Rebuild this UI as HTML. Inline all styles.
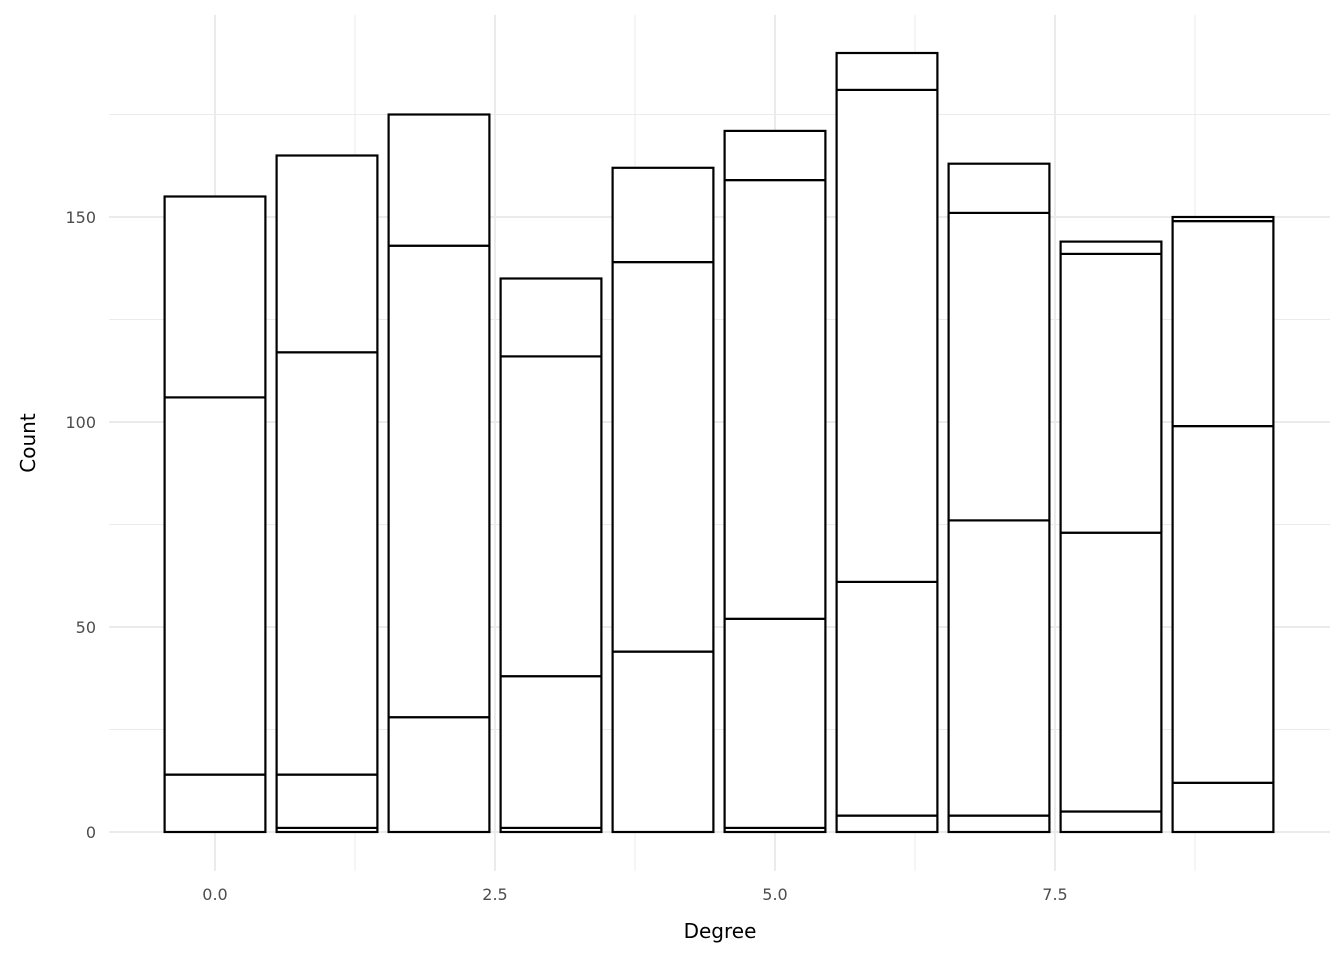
<!DOCTYPE html>
<html><head><meta charset="utf-8"><style>
body{margin:0;background:#fff;}
svg{display:block;font-family:"DejaVu Sans","Liberation Sans",sans-serif;}
</style></head><body>
<svg id="chart" width="1344" height="960" viewBox="0 0 1344 960" xmlns="http://www.w3.org/2000/svg">
<g id="grid"></g>
<g id="bars"></g>
<g id="axes"></g>
<text x="720" y="938" text-anchor="middle" font-size="20" fill="#000">Degree</text>
<text transform="translate(35,443) rotate(-90)" text-anchor="middle" font-size="20" fill="#000">Count</text>
</svg>
<script>
const categories = [0,1,2,3,4,5,6,7,8,9];
const s1 = [0,1,0,1,0,1,4,4,5,0];
const s2 = [14,13,28,37,44,51,57,72,68,12];
const s3 = [92,103,115,78,95,107,120,75,68,87];
const s4 = [49,48,32,19,23,12,9,12,3,50];
const s5 = [0,0,0,0,0,0,0,0,0,1];
const xTicks = [0,2.5,5,7.5];
const xTickLabels = ["0.0","2.5","5.0","7.5"];
const yTicks = [0,50,100,150];
const yTickLabels = ["0","50","100","150"];

const NS = "http://www.w3.org/2000/svg";
function X(v){ return 215 + v*112; }
function Y(v){ return 832 - v*4.1; }
function mk(tag, attrs, parent){
  const e = document.createElementNS(NS, tag);
  for (const k in attrs) e.setAttribute(k, attrs[k]);
  parent.appendChild(e);
  return e;
}
const grid = document.getElementById('grid');
const bars = document.getElementById('bars');
const axes = document.getElementById('axes');
const L = 109, R = 1330, T = 15, B = 871;
// minor grid
for (let i = 0; i < xTicks.length; i++) {
  const v = xTicks[i] + 1.25;
  const l = mk('line', {x1:X(v), x2:X(v), y1:T, y2:B, stroke:'#ebebeb', 'stroke-width':1}, grid);
  
  
}
for (let i = 0; i < yTicks.length; i++) {
  const v = yTicks[i] + 25;
  const l = mk('line', {x1:L, x2:R, y1:Y(v), y2:Y(v), stroke:'#ebebeb', 'stroke-width':1}, grid);
  
  
}
// major grid + labels
for (let i = 0; i < xTicks.length; i++) {
  const x = X(xTicks[i]);
  const l = mk('line', {x1:x, x2:x, y1:T, y2:B, stroke:'#ebebeb', 'stroke-width':2}, grid);
  
  
  const t = mk('text', {x:x, y:900, 'text-anchor':'middle', 'font-size':16, fill:'#4d4d4d'}, axes);
  t.textContent = xTickLabels[i];
  
  
}
for (let i = 0; i < yTicks.length; i++) {
  const y = Y(yTicks[i]);
  const l = mk('line', {x1:L, x2:R, y1:y, y2:y, stroke:'#ebebeb', 'stroke-width':2}, grid);
  
  
  const t = mk('text', {x:96, y:y+6, 'text-anchor':'end', 'font-size':16, fill:'#4d4d4d'}, axes);
  t.textContent = yTickLabels[i];
  
  
}
// bars
const series = [s1, s2, s3, s4, s5];
for (let i = 0; i < categories.length; i++) {
  let cum = 0;
  const x0 = X(categories[i] - 0.45), w = X(categories[i] + 0.45) - x0;
  for (let s = 0; s < series.length; s++) {
    const v = series[s][i];
    if (v <= 0) continue;
    const y1 = Y(cum + v), y0 = Y(cum);
    const r = mk('rect', {x:x0, y:y1, width:w, height:y0 - y1, fill:'#fff', stroke:'#000', 'stroke-width':2.2}, bars);
    
    
    cum += v;
  }
}
</script>
</body></html>
